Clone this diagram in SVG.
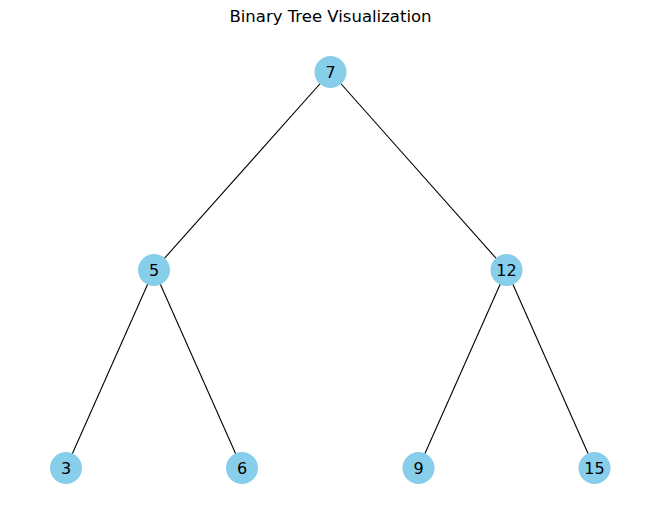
<svg xmlns="http://www.w3.org/2000/svg" width="660" height="520" viewBox="0 0 660 520">
<style>
.edge{stroke:#000;stroke-width:1.1;fill:none}
.node circle{fill:#87CEEB}
.node text{font-family:"DejaVu Sans",sans-serif;font-size:16px;text-anchor:middle;fill:#000}
.title{font-family:"DejaVu Sans",sans-serif;font-size:16.5px;text-anchor:middle;fill:#000}
</style>
<rect width="660" height="520" fill="#fff"/>
<text class="title" x="330.5" y="22">Binary Tree Visualization</text>
<g id="edges">
<line class="edge" x1="330.5" y1="72" x2="154" y2="270"/>
<line class="edge" x1="330.5" y1="72" x2="506.5" y2="270"/>
<line class="edge" x1="154" y1="270" x2="66" y2="468"/>
<line class="edge" x1="154" y1="270" x2="242" y2="468"/>
<line class="edge" x1="506.5" y1="270" x2="418.5" y2="468"/>
<line class="edge" x1="506.5" y1="270" x2="594.5" y2="468"/>
</g>
<g id="n7" class="node"><circle cx="330.5" cy="72" r="16"/><text x="330.5" y="77.8">7</text></g>
<g id="n5" class="node"><circle cx="154" cy="270" r="16"/><text x="154" y="275.8">5</text></g>
<g id="n12" class="node"><circle cx="506.5" cy="270" r="16"/><text x="506.5" y="275.8">12</text></g>
<g id="n3" class="node"><circle cx="66" cy="468" r="16"/><text x="66" y="473.8">3</text></g>
<g id="n6" class="node"><circle cx="242" cy="468" r="16"/><text x="242" y="473.8">6</text></g>
<g id="n9" class="node"><circle cx="418.5" cy="468" r="16"/><text x="418.5" y="473.8">9</text></g>
<g id="n15" class="node"><circle cx="594.5" cy="468" r="16"/><text x="594.5" y="473.8">15</text></g>
</svg>
